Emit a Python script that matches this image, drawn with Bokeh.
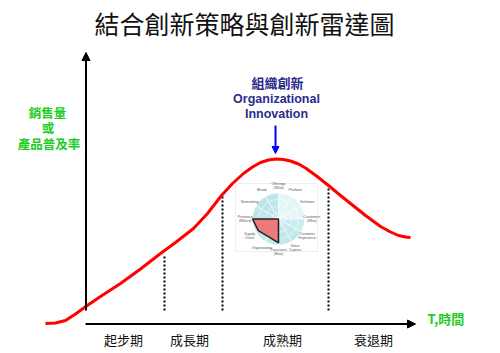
import numpy as np
from bokeh.plotting import figure
from bokeh.models import Range1d, Arrow, NormalHead
from bokeh.core.properties import value
from bokeh.embed import file_html
from bokeh.resources import INLINE

# ---------------- data ----------------
title_text = "結合創新策略與創新雷達圖"

# life-cycle curve (time, sales)
curve_t = [-4.1, -3.1, -2.1, -1.1, 0.0, 1.4, 3.4, 5.4, 7.4, 8.9, 10.7, 12.1, 13.5, 14.6, 15.7,
           16.6, 17.4, 18.2, 18.9, 19.7, 20.4, 21.2, 21.9, 23.0, 24.2, 25.4, 26.4, 27.9, 29.4,
           30.4, 31.2, 31.9, 32.4]
curve_s = [0.05, 0.1, 0.35, 1.0, 1.8, 2.75, 4.05, 5.5, 7.05, 8.15, 9.55, 11.05, 12.85, 14.05,
           15.05, 15.7, 16.15, 16.4, 16.5, 16.45, 16.3, 16.0, 15.6, 14.8, 13.85, 12.85, 12.05,
           10.85, 9.75, 9.2, 8.85, 8.7, 8.65]

stages = ["起步期", "成長期", "成熟期", "衰退期"]
stage_mid = [3.7, 10.3, 19.6, 28.7]
stage_bounds = [7.8, 13.6, 24.2]
stage_bound_top = [6.85, 12.85, 13.85]

y_label_lines = ["銷售量", "或", "產品普及率"]
x_label = "T,時間"
annot_lines = ["組織創新", "Organizational", "Innovation"]

radar_dims = ["Offerings\n(What)", "Platform", "Solutions", "Customers\n(Who)",
              "Customer\nExperience", "Value\nCapture", "Processes\n(How)", "Organization",
              "Supply\nChain", "Presence\n(Where)", "Networking", "Brand"]
radar_vals = [0.0, 0.0, 0.0, 0.0, 0.0, 0.0, 0.92, 0.78, 0.9, 1.0, 0.0, 0.0]

# ---------------- figure ----------------
p = figure(width=500, height=353, output_backend="svg", toolbar_location=None,
           x_range=Range1d(-8.6, 41.4), y_range=Range1d(-2.95, 32.35),
           x_axis_type=None, y_axis_type=None, min_border=0)
p.outline_line_color = None
p.grid.visible = False
p.background_fill_color = "white"
p.border_fill_color = "white"

CJK = value("Noto Sans CJK TC")

# title
p.text(x=[15.8], y=[30.15], text=[title_text], text_font=CJK,
       text_font_size=value("25px"), text_color="#111111",
       text_align="center", text_baseline="middle")

# axes arrows
p.add_layout(Arrow(end=NormalHead(size=8, fill_color="black", line_color="black"),
                   x_start=-0.05, y_start=1.35, x_end=-0.05, y_end=27.15,
                   line_width=2, line_color="black"))
p.add_layout(Arrow(end=NormalHead(size=8, fill_color="black", line_color="black"),
                   x_start=-0.1, y_start=0.0, x_end=32.9, y_end=0.0,
                   line_width=2, line_color="black"))

# stage boundaries (dotted)
for b, top in zip(stage_bounds, stage_bound_top):
    p.line([b, b], [1.35, top], line_color="black", line_width=2, line_dash="2 2")

# radar background box
p.quad(left=[14.9], right=[23.1], bottom=[7.25], top=[14.05],
       fill_color="white", line_color="#eeeeee", line_width=1)

# radar chart
cx, cy, R = 19.2, 10.5, 2.6
n = len(radar_dims)
ang = np.array([i * 2 * np.pi / n for i in range(n)])  # clockwise from top
# wedge colours
wedge_cols = ["#e4f5f6", "#e4f5f6", "#e4f5f6", "#c9ecee", "#c2e8eb", "#c2e8eb",
              "#c2e8eb", "#c2e8eb", "#c2e8eb", "#bfe6ea", "#bfe6ea", "#bfe6ea"]
# bokeh angles: counter-clockwise from +x. Dimension i at clockwise angle a -> math angle pi/2 - a
start = [np.pi / 2 - (a + 2 * np.pi / n) for a in ang]
end = [np.pi / 2 - a for a in ang]
p.wedge(x=cx, y=cy, radius=R, start_angle=start, end_angle=end,
        fill_color=wedge_cols, line_color=None)
for rr in [0.25, 0.5, 0.75, 1.0]:
    p.circle(x=[cx], y=[cy], radius=R * rr, fill_color=None, line_color="white",
             line_width=0.6, line_alpha=0.8)
p.segment(x0=[cx] * n, y0=[cy] * n,
          x1=[cx + R * np.sin(a) for a in ang], y1=[cy + R * np.cos(a) for a in ang],
          line_color="white", line_width=0.7)
px = [cx + v * R * np.sin(a) for v, a in zip(radar_vals, ang)]
py = [cy + v * R * np.cos(a) for v, a in zip(radar_vals, ang)]
p.patch(px, py, fill_color="#ec7a7a", line_color="#222222", line_width=1.5)
lab_r = R * 1.28
p.text(x=[cx + lab_r * np.sin(a) for a in ang], y=[cy + lab_r * np.cos(a) for a in ang],
       text=radar_dims, text_font=value("Liberation Sans"), text_font_size=value("3.5px"),
       text_color="#555555", text_align="center", text_baseline="middle",
       text_line_height=1.0)

# life-cycle curve
p.line(curve_t, curve_s, line_color="#ff0000", line_width=3)

# stage labels
p.text(x=stage_mid, y=[-1.55] * 4, text=stages, text_font=CJK,
       text_font_size=value("13px"), text_color="#111111",
       text_align="center", text_baseline="middle")

# y label (green)
p.text(x=[-3.9, -3.85, -3.75], y=[21.15, 19.65, 18.05], text=y_label_lines, text_font=CJK,
       text_font_size=value("12.5px"), text_font_style="bold", text_color="#22cc22",
       text_align="center", text_baseline="middle")

# x label
p.text(x=[34.1], y=[0.55], text=[x_label], text_font=CJK,
       text_font_size=value("13px"), text_font_style="bold", text_color="#22cc22",
       text_align="left", text_baseline="middle")

# annotation
p.text(x=[19.1], y=[24.15], text=[annot_lines[0]], text_font=CJK,
       text_font_size=value("13px"), text_font_style="bold", text_color="#2b2b8c",
       text_align="center", text_baseline="middle")
p.text(x=[19.0, 19.0], y=[22.55, 21.05], text=annot_lines[1:],
       text_font=value("Liberation Sans"), text_font_size=value("12.5px"),
       text_font_style="bold", text_color="#2b2b8c",
       text_align="center", text_baseline="middle")
p.add_layout(Arrow(end=NormalHead(size=7, fill_color="#0000ff", line_color="#0000ff"),
                   x_start=18.9, y_start=19.85, x_end=18.9, y_end=17.05,
                   line_width=2, line_color="#0000ff"))

open("out.html", "w").write(file_html(p, INLINE))
